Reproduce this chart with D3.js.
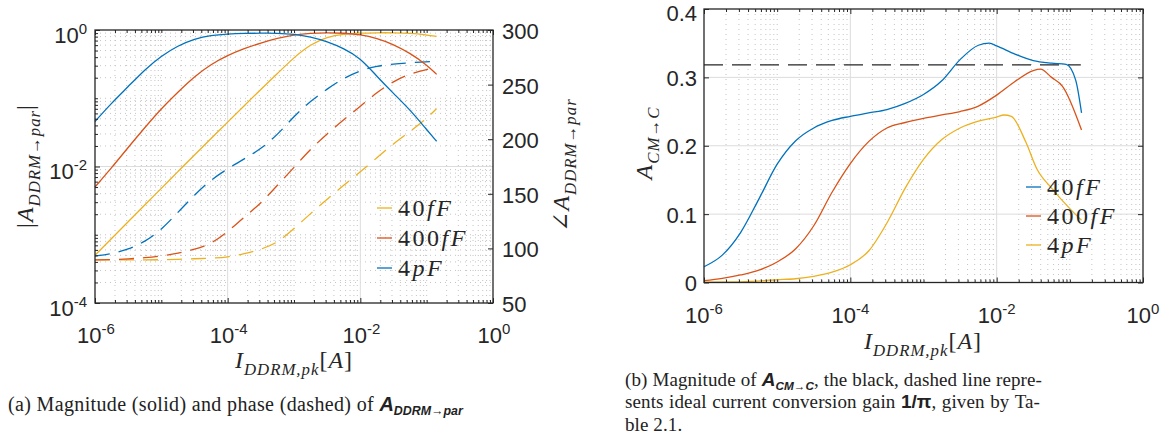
<!DOCTYPE html>
<html>
<head>
<meta charset="utf-8">
<script src="https://cdn.jsdelivr.net/npm/d3@7"></script>
<style>
  body { margin: 0; background: #fff; }
  svg text { font-family: "Liberation Sans", Arial, sans-serif; fill: #262626; }
  .tex { font-family: "Liberation Serif", "DejaVu Serif", serif; letter-spacing: 1px; }
  .cap { font-family: "Liberation Serif", "DejaVu Serif", serif; fill: #222; }
</style>
</head>
<body>
<svg id="fig" width="1175" height="441"></svg>
<script>
// ---- panel (a): log10 of I_DDRM,pk [A], shared by all its curves
var logIa = [-6, -5.75, -5.5, -5.25, -5, -4.75, -4.5, -4.25, -4, -3.75, -3.5, -3.25,
             -3, -2.75, -2.5, -2.25, -2, -1.75, -1.5, -1.25, -1, -0.85];

// log10 |A_DDRM->par|  (solid)
var magA40f  = [-3.30, -3.055, -2.81, -2.565, -2.32, -2.075, -1.83, -1.59, -1.35, -1.11, -0.87, -0.64,
                -0.40, -0.21, -0.10, -0.06, -0.045, -0.04, -0.04, -0.045, -0.07, -0.095];
var magA400f = [-2.30, -2.02, -1.72, -1.43, -1.15, -0.91, -0.68, -0.50, -0.37, -0.27, -0.19, -0.12,
                -0.07, -0.045, -0.04, -0.045, -0.065, -0.12, -0.21, -0.34, -0.51, -0.65];
var magA4p   = [-1.34, -1.07, -0.83, -0.58, -0.38, -0.23, -0.13, -0.075, -0.058, -0.05, -0.046, -0.046,
                -0.06, -0.10, -0.17, -0.27, -0.41, -0.68, -0.93, -1.17, -1.46, -1.63];

// phase of A_DDRM->par in degrees (dashed)
var phA40f  = [89.5, 89.5, 89.5, 89.5, 89.6, 90, 90.5, 91, 92, 95, 99, 105,
               118, 132, 145, 158, 170, 183, 196, 207, 219, 228];
var phA400f = [89.5, 89.8, 90.3, 91.5, 93, 95.5, 99, 104, 115, 129, 141, 158,
               174, 191, 205, 218, 230, 243, 253, 260, 264, 265.5];
var phA4p   = [93, 95, 99, 106, 117, 133, 149, 163, 173, 182, 191, 204,
               221, 235, 246, 256, 263, 267, 269, 270, 271, 271];

// ---- panel (b): A_CM->C
var logIb40f = [-6, -5.75, -5.5, -5.25, -5, -4.75, -4.5, -4.25, -4, -3.75, -3.5, -3.25, -3, -2.75,
                -2.5, -2.25, -2.1, -2, -1.75, -1.5, -1.25, -1.05, -0.92, -0.84];
var gain40f  = [0.023, 0.040, 0.073, 0.122, 0.173, 0.207, 0.226, 0.237, 0.243, 0.248, 0.253, 0.262, 0.275, 0.295,
                0.326, 0.347, 0.350, 0.346, 0.334, 0.3245, 0.3207, 0.319, 0.296, 0.248];
var logIb400f = [-6, -5.75, -5.5, -5.25, -5, -4.75, -4.5, -4.25, -4, -3.75, -3.5, -3.25, -3, -2.75,
                 -2.5, -2.25, -2, -1.75, -1.5, -1.4, -1.25, -1.1, -0.84];
var gain400f  = [0.0026, 0.006, 0.011, 0.018, 0.030, 0.049, 0.083, 0.132, 0.174, 0.206, 0.226, 0.234, 0.240, 0.245,
                 0.250, 0.258, 0.274, 0.294, 0.310, 0.312, 0.300, 0.287, 0.223];
var logIb4p = [-6, -5.5, -5, -4.75, -4.5, -4.25, -4, -3.75, -3.5, -3.25, -3, -2.75, -2.5, -2.25,
               -2, -1.9, -1.8, -1.6, -1.45, -1.25, -1, -0.84];
var gain4p  = [0.0005, 0.001, 0.004, 0.0055, 0.009, 0.015, 0.026, 0.046, 0.087, 0.138, 0.180, 0.209, 0.226, 0.236,
               0.242, 0.245, 0.243, 0.205, 0.166, 0.138, 0.108, 0.091];
var idealGain = 0.3183;          // 1/pi
var idealSpan = [-6, -0.85];     // log10 I of the black dashed line

var xTickExp = [-6, -4, -2, 0];
var magTickExp = [-4, -2, 0];
var phaseTicks = [50, 100, 150, 200, 250, 300];
var gainTicks = [0, 0.1, 0.2, 0.3, 0.4];

var blue = '#0072BD', red = '#D95319', yellow = '#EDB120';

var svg = d3.select('#fig');

// scales
var xa = d3.scaleLog().domain([1e-6, 1]).range([95, 493]);
var ya = d3.scaleLog().domain([1e-4, 1]).range([303, 30]);
var ya2 = d3.scaleLinear().domain([50, 300]).range([303, 30]);
var xb = d3.scaleLog().domain([1e-6, 1]).range([704, 1143]);
var yb = d3.scaleLinear().domain([0, 0.4]).range([282.5, 9]);

function p10(e) { return Math.pow(10, e); }

function logMinor(lo, hi, majorExp) {
  var out = [];
  for (var k = lo; k < hi; k++)
    for (var m = 1; m < 10; m++) {
      if (m === 1 && majorExp.indexOf(k) >= 0) continue;
      out.push(m * Math.pow(10, k));
    }
  return out;
}

function vgrid(g, x, vals, y0, y1, dotted) {
  g.selectAll(null).data(vals).enter().append('line')
    .attr('x1', function(d) { return x(d); }).attr('x2', function(d) { return x(d); })
    .attr('y1', y0).attr('y2', y1)
    .attr('stroke', dotted ? '#c4c4c4' : '#dcdcdc')
    .attr('stroke-width', 1)
    .attr('stroke-dasharray', dotted ? '1,4' : null);
}
function hgrid(g, y, vals, x0, x1, dotted) {
  g.selectAll(null).data(vals).enter().append('line')
    .attr('y1', function(d) { return y(d); }).attr('y2', function(d) { return y(d); })
    .attr('x1', x0).attr('x2', x1)
    .attr('stroke', dotted ? '#c4c4c4' : '#dcdcdc')
    .attr('stroke-width', 1)
    .attr('stroke-dasharray', dotted ? '1,4' : null);
}

function ticks(g, axisFn, scale, vals, len, tr) {
  var a = g.append('g').attr('transform', tr)
    .call(axisFn(scale).tickValues(vals).tickSize(-len).tickFormat(''));
  a.select('.domain').remove();
  a.selectAll('line').attr('stroke', '#262626').attr('stroke-width', 1);
}

function powLabel(g, x, y, e, anchor) {
  var t = g.append('text').attr('x', x).attr('y', y)
    .attr('text-anchor', anchor).style('font-size', '22px');
  t.append('tspan').text('10');
  t.append('tspan').attr('dy', -9).style('font-size', '15px').text(e);
}

// math-like label: segs of {t, sub, up}
function tex(t, segs, fs) {
  var shift = 0;
  segs.forEach(function(s) {
    var lvl = s.sub ? fs * 0.3 : 0;
    t.append('tspan').attr('dy', lvl - shift)
      .style('font-size', (s.sub ? fs * 0.7 : fs) + 'px')
      .style('font-style', s.up ? 'normal' : 'italic')
      .text(s.t);
    shift = lvl;
  });
}

function legend(g, x, y0, dy, items) {
  items.forEach(function(it, i) {
    var y = y0 + i * dy;
    g.append('line').attr('x1', x).attr('x2', x + 15).attr('y1', y).attr('y2', y)
      .attr('stroke', it.c).attr('stroke-width', 1.3);
    var t = g.append('text').attr('class', 'tex').attr('x', x + 21).attr('y', y + 8)
      .style('letter-spacing', '2.5px');
    tex(t, it.segs, 24);
  });
}

// ================= panel (a) =================
var ga = svg.append('g');
var axMinorX = logMinor(-6, 0, xTickExp);
vgrid(ga, xa, axMinorX, 30, 303, true);
hgrid(ga, ya, logMinor(-4, 0, magTickExp), 95, 493, true);
vgrid(ga, xa, [1e-4, 1e-2], 30, 303, false);
hgrid(ga, ya, [1e-2], 95, 493, false);

var lineMag = d3.line()
  .x(function(d) { return xa(p10(d[0])); })
  .y(function(d) { return ya(p10(d[1])); })
  .curve(d3.curveBasis);
var linePh = d3.line()
  .x(function(d) { return xa(p10(d[0])); })
  .y(function(d) { return ya2(d[1]); })
  .curve(d3.curveBasis);

var seriesA = [
  { mag: magA40f, ph: phA40f, c: yellow },
  { mag: magA400f, ph: phA400f, c: red },
  { mag: magA4p, ph: phA4p, c: blue }
];
seriesA.forEach(function(s) {
  ga.append('path').datum(d3.zip(logIa, s.ph)).attr('d', linePh)
    .attr('fill', 'none').attr('stroke', s.c).attr('stroke-width', 1.3)
    .attr('stroke-dasharray', '15,9');
});
seriesA.forEach(function(s) {
  ga.append('path').datum(d3.zip(logIa, s.mag)).attr('d', lineMag)
    .attr('fill', 'none').attr('stroke', s.c).attr('stroke-width', 1.3);
});

ga.append('rect').attr('x', 95).attr('y', 30).attr('width', 398).attr('height', 273)
  .attr('fill', 'none').attr('stroke', '#262626').attr('stroke-width', 1.3);

ticks(ga, d3.axisBottom, xa, xTickExp.map(p10), 5, 'translate(0,303)');
ticks(ga, d3.axisBottom, xa, axMinorX, 3, 'translate(0,303)');
ticks(ga, d3.axisTop, xa, xTickExp.map(p10), 5, 'translate(0,30)');
ticks(ga, d3.axisTop, xa, axMinorX, 3, 'translate(0,30)');
ticks(ga, d3.axisLeft, ya, magTickExp.map(p10), 5, 'translate(95,0)');
ticks(ga, d3.axisLeft, ya, logMinor(-4, 0, magTickExp), 3, 'translate(95,0)');
ticks(ga, d3.axisRight, ya2, phaseTicks, 5, 'translate(493,0)');

xTickExp.forEach(function(e) { powLabel(ga, xa(p10(e)) + 1, 343, String(e), 'middle'); });
magTickExp.forEach(function(e) { powLabel(ga, 87, ya(p10(e)) + 12.5, String(e), 'end'); });
ga.selectAll(null).data(phaseTicks).enter().append('text')
  .attr('x', 502).attr('y', function(d) { return ya2(d) + 9; })
  .style('font-size', '22px').text(function(d) { return d; });

var xlabA = ga.append('text').attr('class', 'tex').attr('x', 294).attr('y', 368).attr('text-anchor', 'middle');
tex(xlabA, [{ t: 'I' }, { t: 'DDRM,pk', sub: true }, { t: '[', up: true }, { t: 'A' }, { t: ']', up: true }], 24);

var ylabA = ga.append('text').attr('class', 'tex').attr('text-anchor', 'middle')
  .attr('transform', 'translate(33,166) rotate(-90)');
tex(ylabA, [{ t: '|', up: true }, { t: 'A' }, { t: 'DDRM', sub: true }, { t: '→', sub: true, up: true },
            { t: 'par', sub: true }, { t: '|', up: true }], 24);

var ylabA2 = ga.append('text').attr('class', 'tex').attr('text-anchor', 'middle')
  .attr('transform', 'translate(569,165) rotate(-90)');
tex(ylabA2, [{ t: '∠', up: true }, { t: 'A' }, { t: 'DDRM', sub: true }, { t: '→', sub: true, up: true },
             { t: 'par', sub: true }], 24);

legend(ga, 377, 208, 30, [
  { c: yellow, segs: [{ t: '40', up: true }, { t: 'fF' }] },
  { c: red, segs: [{ t: '400', up: true }, { t: 'fF' }] },
  { c: blue, segs: [{ t: '4', up: true }, { t: 'pF' }] }
]);

// ================= panel (b) =================
var gb = svg.append('g');
vgrid(gb, xb, axMinorX, 9, 282.5, true);
vgrid(gb, xb, [1e-4, 1e-2], 9, 282.5, false);
hgrid(gb, yb, [0.1, 0.2, 0.3], 704, 1143, false);

var lineGain = d3.line()
  .x(function(d) { return xb(p10(d[0])); })
  .y(function(d) { return yb(d[1]); })
  .curve(d3.curveMonotoneX);

gb.append('path').datum(idealSpan.map(function(e) { return [e, idealGain]; })).attr('d', lineGain)
  .attr('fill', 'none').attr('stroke', '#262626').attr('stroke-width', 1.4)
  .attr('stroke-dasharray', '19,9');

var seriesB = [
  { x: logIb40f, y: gain40f, c: blue },
  { x: logIb400f, y: gain400f, c: red },
  { x: logIb4p, y: gain4p, c: yellow }
];
seriesB.forEach(function(s) {
  gb.append('path').datum(d3.zip(s.x, s.y)).attr('d', lineGain)
    .attr('fill', 'none').attr('stroke', s.c).attr('stroke-width', 1.3);
});

gb.append('rect').attr('x', 704).attr('y', 9).attr('width', 439).attr('height', 273.5)
  .attr('fill', 'none').attr('stroke', '#262626').attr('stroke-width', 1.3);

ticks(gb, d3.axisBottom, xb, xTickExp.map(p10), 5, 'translate(0,282.5)');
ticks(gb, d3.axisBottom, xb, axMinorX, 3, 'translate(0,282.5)');
ticks(gb, d3.axisTop, xb, xTickExp.map(p10), 5, 'translate(0,9)');
ticks(gb, d3.axisTop, xb, axMinorX, 3, 'translate(0,9)');
ticks(gb, d3.axisLeft, yb, gainTicks, 5, 'translate(704,0)');
ticks(gb, d3.axisRight, yb, gainTicks, 5, 'translate(1143,0)');

xTickExp.forEach(function(e) { powLabel(gb, xb(p10(e)), 323, String(e), 'middle'); });
gb.selectAll(null).data(gainTicks).enter().append('text')
  .attr('x', 697).attr('y', function(d) { return d === 0.4 ? yb(d) + 11.5 : yb(d) + 8.5; })
  .attr('text-anchor', 'end').style('font-size', '22px')
  .text(function(d) { return d === 0 ? '0' : d3.format('.1f')(d); });

var xlabB = gb.append('text').attr('class', 'tex').attr('x', 923).attr('y', 349).attr('text-anchor', 'middle');
tex(xlabB, [{ t: 'I' }, { t: 'DDRM,pk', sub: true }, { t: '[', up: true }, { t: 'A' }, { t: ']', up: true }], 24);

var ylabB = gb.append('text').attr('class', 'tex').attr('text-anchor', 'middle')
  .attr('transform', 'translate(652,143) rotate(-90)');
tex(ylabB, [{ t: 'A' }, { t: 'CM', sub: true }, { t: '→', sub: true, up: true }, { t: 'C', sub: true }], 24);

legend(gb, 1026, 187, 29, [
  { c: blue, segs: [{ t: '40', up: true }, { t: 'fF' }] },
  { c: red, segs: [{ t: '400', up: true }, { t: 'fF' }] },
  { c: yellow, segs: [{ t: '4', up: true }, { t: 'pF' }] }
]);

// ================= captions =================
function caption(x, y, parts, fs, ls, width) {
  var t = svg.append('text').attr('class', 'cap').attr('x', x).attr('y', y)
    .style('font-size', fs + 'px').style('letter-spacing', ls + 'px');
  var shift = 0;
  parts.forEach(function(p) {
    var lvl = p.sub ? 4 : 0;
    var s = t.append('tspan').attr('dy', lvl - shift).text(p.t);
    if (p.sub) s.style('font-size', (fs * 0.62) + 'px');
    if (p.b) s.style('font-family', '"Liberation Sans", Arial, sans-serif').style('font-weight', 'bold')
      .style('font-style', p.up ? 'normal' : 'italic').style('letter-spacing', '0px');
    shift = lvl;
  });
  if (width) {
    var w = t.node().getComputedTextLength();
    var n = t.text().split(' ').length - 1;
    if (n > 0) t.attr('word-spacing', Math.max(0, (width - w) / n));
  }
  return t;
}

caption(8, 411, [
  { t: '(a) Magnitude (solid) and phase (dashed) of ' },
  { t: 'A', b: true }, { t: 'DDRM→par', b: true, sub: true }
], 20, 0.35);
caption(625, 386, [
  { t: '(b) Magnitude of ' }, { t: 'A', b: true }, { t: 'CM→C', b: true, sub: true },
  { t: ', the black, dashed line repre-' }
], 19, 0.1, 417);
caption(625, 408, [
  { t: 'sents ideal current conversion gain ' }, { t: '1/π', b: true, up: true },
  { t: ', given by Ta-' }
], 19, 0.1, 415);
caption(625, 431, [{ t: 'ble 2.1.' }], 19, 0.1);
</script>
</body>
</html>
